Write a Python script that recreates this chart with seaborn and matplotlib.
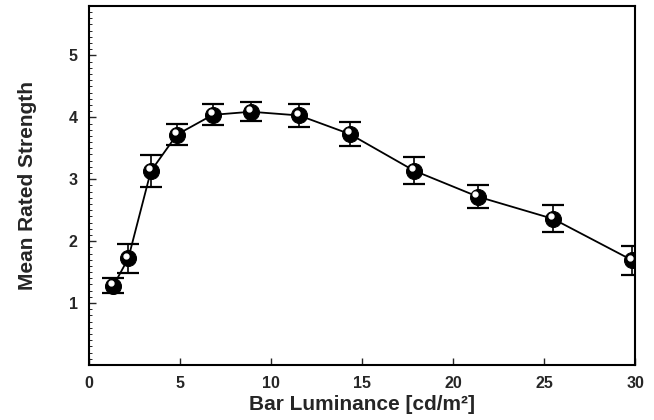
import matplotlib
matplotlib.use("Agg")
import matplotlib.pyplot as plt
import matplotlib.transforms as mtransforms
from matplotlib.ticker import MultipleLocator
import pandas as pd
import seaborn as sns

# Data
luminance = [1.34, 2.16, 3.4, 4.83, 6.8, 8.9, 11.55, 14.33, 17.85, 21.35, 25.5, 29.85]
mean_strength = [1.28, 1.72, 3.13, 3.72, 4.04, 4.09, 4.03, 3.73, 3.14, 2.72, 2.36, 1.69]
sem = [0.12, 0.24, 0.26, 0.17, 0.17, 0.15, 0.19, 0.19, 0.22, 0.19, 0.22, 0.23]

df = pd.DataFrame({"lum": luminance, "strength": mean_strength, "sem": sem})

sns.set_style("ticks")
plt.rcParams["font.family"] = ["Liberation Sans", "DejaVu Sans"]
plt.rcParams["font.weight"] = "bold"

fig = plt.figure(figsize=(6.54, 4.20), dpi=100)
ax = fig.add_axes([0.136, 0.131, 0.835, 0.855])

# error bars
ax.errorbar(df["lum"], df["strength"], yerr=df["sem"], fmt="none",
            ecolor="black", elinewidth=1.2, capsize=8, capthick=1.6, zorder=2)

# connecting line + black spheres
sns.lineplot(data=df, x="lum", y="strength", ax=ax, color="black", lw=1.3,
             marker="o", markersize=11.5, markerfacecolor="black",
             markeredgecolor="black", zorder=3)

# white highlight on each sphere
hl = mtransforms.offset_copy(ax.transData, fig=fig, x=-1.5, y=2.0, units="points")
ax.plot(df["lum"], df["strength"], ls="none", marker="o", markersize=3.5,
        markerfacecolor="white", markeredgecolor="white", transform=hl, zorder=4)

ax.set_xlim(0, 30)
ax.set_ylim(0, 5.8)
ax.set_xticks([0, 5, 10, 15, 20, 25, 30])
ax.set_yticks([1, 2, 3, 4, 5])
ax.yaxis.set_minor_locator(MultipleLocator(0.1))
ax.tick_params(axis="both", which="major", direction="in", length=5, width=1,
               labelsize=11.5, pad=8)
ax.tick_params(axis="y", which="minor", direction="in", length=2.5, width=0.7)
for lab in ax.get_xticklabels() + ax.get_yticklabels():
    lab.set_fontweight("bold")

for side in ["top", "right", "left", "bottom"]:
    ax.spines[side].set_visible(True)
    ax.spines[side].set_linewidth(1.5)
    ax.spines[side].set_color("black")

ax.set_xlabel("Bar Luminance [cd/m²]", fontsize=15, fontweight="bold", labelpad=3)
ax.set_ylabel("Mean Rated Strength", fontsize=15, fontweight="bold", labelpad=23)

fig.savefig("out.png", dpi=100)
